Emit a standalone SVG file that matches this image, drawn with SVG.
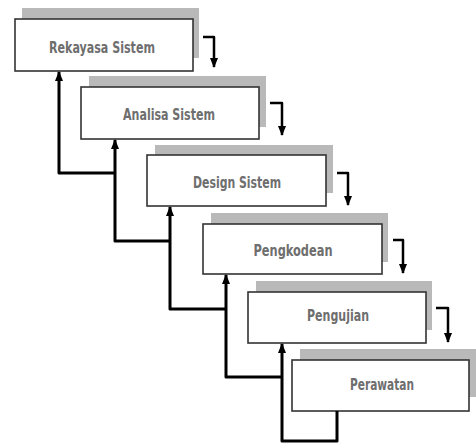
<svg xmlns="http://www.w3.org/2000/svg" width="476" height="443" viewBox="0 0 476 443">
<defs>
<marker id="ah" markerUnits="userSpaceOnUse" markerWidth="10" markerHeight="10" viewBox="0 0 10 10" refX="9" refY="5" orient="auto">
<path d="M0,1 L10,5 L0,9 Z" fill="#000"/>
</marker>
</defs>
<style>
.shadow{fill:#b9b9b9;stroke:none}
.box{fill:#fff;stroke:#333;stroke-width:1.6}
.lbl{font-family:"Liberation Sans Narrow","DejaVu Sans Condensed","Liberation Sans",sans-serif;font-size:16px;font-weight:bold;fill:#6e6e6e;text-anchor:middle}
.flow{fill:none;stroke:#000;stroke-width:2.5;stroke-linejoin:round;marker-end:url(#ah)}
.back{fill:none;stroke:#000;stroke-width:3;stroke-linejoin:round;marker-end:url(#ah)}
</style>
<rect width="476" height="443" fill="#fff"/>
<g id="rekayasa">
<rect class="shadow" x="22" y="8" width="177" height="50"/>
<rect class="box" x="15" y="19" width="178" height="52"/>
<text class="lbl" x="102" y="53" textLength="106" lengthAdjust="spacingAndGlyphs">Rekayasa Sistem</text>
</g>
<g id="analisa">
<rect class="shadow" x="89" y="76" width="177" height="51"/>
<rect class="box" x="81" y="87" width="178" height="52"/>
<text class="lbl" x="169" y="120" textLength="92" lengthAdjust="spacingAndGlyphs">Analisa Sistem</text>
</g>
<g id="design">
<rect class="shadow" x="155" y="145" width="178" height="48"/>
<rect class="box" x="147" y="155" width="179" height="51"/>
<text class="lbl" x="237" y="188" textLength="88" lengthAdjust="spacingAndGlyphs">Design Sistem</text>
</g>
<g id="pengkodean">
<rect class="shadow" x="211" y="213" width="177" height="49"/>
<rect class="box" x="203" y="224" width="179" height="50"/>
<text class="lbl" x="293" y="256" textLength="79" lengthAdjust="spacingAndGlyphs">Pengkodean</text>
</g>
<g id="pengujian">
<rect class="shadow" x="256" y="281" width="176" height="49"/>
<rect class="box" x="248" y="292" width="178" height="51"/>
<text class="lbl" x="338" y="321" textLength="62" lengthAdjust="spacingAndGlyphs">Pengujian</text>
</g>
<g id="perawatan">
<rect class="shadow" x="300" y="349" width="177" height="48"/>
<rect class="box" x="292" y="360" width="177" height="51"/>
<text class="lbl" x="382" y="390" textLength="64" lengthAdjust="spacingAndGlyphs">Perawatan</text>
</g>
<g id="connectors">
<path class="flow" d="M203,37 H214 V67"/>
<path class="flow" d="M270,103 H282 V135"/>
<path class="flow" d="M337,173 H348 V205"/>
<path class="flow" d="M393,240 H403 V273"/>
<path class="flow" d="M436,308 H448 V342"/>
<path class="back" d="M337,411 V441 H282 V344"/>
<path class="back" d="M282,377 H226 V275"/>
<path class="back" d="M226,309 H170 V207"/>
<path class="back" d="M170,241 H115 V140"/>
<path class="back" d="M115,173 H59 V72"/>
</g>
</svg>
